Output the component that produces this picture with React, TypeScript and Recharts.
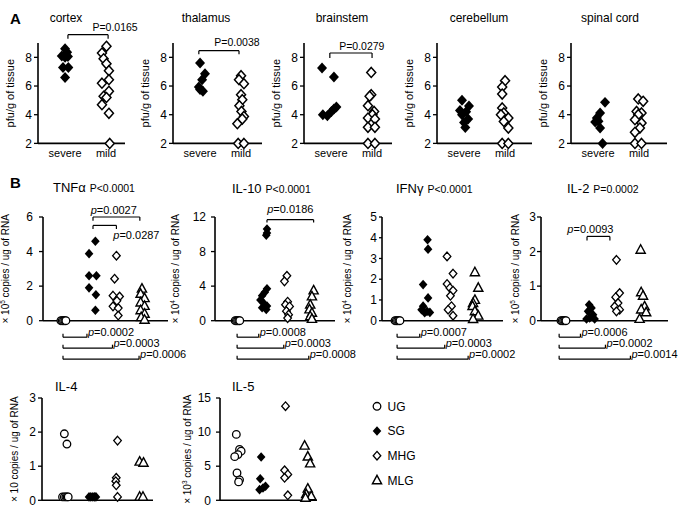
import React from 'react';
import { ScatterChart, Scatter, XAxis, YAxis, ReferenceLine, ReferenceDot } from 'recharts';

const FONT = '"Liberation Sans", Arial, Helvetica, sans-serif';
type Pt = [number, number]; // [group position (with jitter), value]

// ---------------- Panel A: virus titre, pfu/g of tissue ----------------
const A_REGIONS = ['cortex', 'thalamus', 'brainstem', 'cerebellum', 'spinal cord'];
const A_GROUPS = ['severe', 'mild'];
const A_TICKS = [2, 4, 6, 8];
const A_PVALUES = ['P=0.0165', 'P=0.0038', 'P=0.0279'];

const CORTEX_SEVERE: Pt[] = [[1.0, 8.6], [1.05, 8.35], [0.92, 8.1], [1.07, 8.05], [1.0, 8.0], [0.95, 7.3], [1.08, 7.3], [1.0, 6.6]];
const CORTEX_MILD: Pt[] = [[2.01, 8.77], [1.9, 8.3], [1.94, 7.9], [2.01, 7.55], [2.07, 7.07], [2.07, 6.44], [1.9, 6.2], [2.07, 5.63], [1.94, 5.28], [2.01, 5.2], [1.9, 4.7], [2.07, 4.1], [2.09, 2.0]];
const THALAMUS_SEVERE: Pt[] = [[1.0, 7.6], [1.12, 6.86], [1.05, 6.44], [0.97, 5.93], [1.0, 5.75], [1.07, 5.63]];
const THALAMUS_MILD: Pt[] = [[2.0, 6.72], [1.95, 6.44], [2.07, 6.16], [2.0, 5.4], [2.03, 5.05], [1.96, 4.63], [2.01, 4.23], [2.07, 3.88], [2.03, 3.7], [1.91, 3.37], [1.93, 2.0], [2.07, 2.0]];
const BRAINSTEM_SEVERE: Pt[] = [[0.78, 7.26], [1.07, 6.63], [1.13, 4.53], [1.07, 4.4], [1.01, 4.23], [0.8, 4.0], [0.91, 3.93]];
const BRAINSTEM_MILD: Pt[] = [[1.98, 6.95], [1.98, 5.4], [1.94, 5.28], [1.9, 4.63], [2.05, 4.23], [2.01, 4.0], [1.9, 3.77], [2.07, 3.7], [1.9, 3.12], [2.07, 3.12], [1.9, 2.0], [2.07, 2.0]];
const CEREBELLUM_SEVERE: Pt[] = [[0.95, 5.0], [1.12, 4.6], [0.9, 4.3], [1.05, 4.2], [0.95, 4.0], [1.1, 3.7], [1.0, 3.45], [1.03, 3.1]];
const CEREBELLUM_MILD: Pt[] = [[2.0, 6.37], [1.93, 5.93], [1.93, 5.44], [1.93, 4.47], [1.97, 4.12], [1.9, 4.0], [2.08, 3.77], [1.97, 3.53], [2.08, 3.07], [1.93, 2.0], [2.08, 2.0]];
const SPINAL_SEVERE: Pt[] = [[1.17, 4.86], [1.05, 4.12], [0.97, 3.77], [1.01, 3.55], [0.93, 3.5], [1.05, 3.07], [1.11, 2.0]];
const SPINAL_MILD: Pt[] = [[1.98, 5.1], [2.1, 4.93], [1.94, 4.23], [2.06, 4.12], [1.98, 4.0], [1.9, 3.65], [2.06, 3.42], [2.02, 3.07], [1.9, 2.77], [1.9, 2.0], [2.06, 2.0]];

// ---------------- Panel B: cytokine mRNA ----------------
const B_GROUPS = ['UG', 'SG', 'MHG', 'MLG'];
const B_CYTOKINES = ['TNFα', 'IL-10', 'IFNγ', 'IL-2', 'IL-4', 'IL-5'];
const B_OVERALL_P = ['P<0.0001', 'P<0.0001', 'P<0.0001', 'P=0.0002', '', ''];
const B_EXPONENT = ['5', '4', '4', '5', '', '3'];
const TNF_TICKS = [0, 2, 4, 6];
const IL10_TICKS = [0, 4, 8, 12];
const IFN_TICKS = [0, 1, 2, 3, 4, 5];
const IL2_TICKS = [0, 1, 2, 3];
const IL4_TICKS = [0, 1, 2, 3];
const IL5_TICKS = [0, 5, 10, 15];

const TNF_UG: Pt[] = [[0.92, 0], [0.97, 0], [1.02, 0], [1.07, 0], [1.11, 0]];
const TNF_SG: Pt[] = [[2.23, 4.6], [1.99, 3.88], [1.99, 2.6], [2.27, 2.6], [1.99, 1.9], [2.25, 1.5], [2.23, 0.6]];
const TNF_MHG: Pt[] = [[3.03, 3.76], [2.96, 2.43], [2.9, 1.45], [3.15, 1.4], [3.05, 1.15], [2.9, 0.83], [3.1, 0.73], [3.1, 0.3]];
const TNF_MLG: Pt[] = [[4.0, 1.85], [3.95, 1.55], [4.1, 1.3], [3.95, 1.05], [4.1, 0.85], [3.95, 0.6], [4.1, 0.4], [3.97, 0.2], [4.1, 0.05]];

const IL10_UG: Pt[] = [[0.92, 0], [0.97, 0], [1.02, 0], [1.07, 0], [1.11, 0]];
const IL10_SG: Pt[] = [[2.23, 10.6], [2.23, 10.15], [2.2, 9.9], [2.23, 3.7], [2.14, 3.3], [2.03, 2.9], [1.96, 2.4], [2.1, 2.0], [2.23, 1.7], [2.03, 1.5], [2.2, 1.3]];
const IL10_MHG: Pt[] = [[3.05, 5.2], [2.95, 4.55], [3.08, 2.2], [2.99, 1.85], [3.16, 1.65], [3.03, 1.1], [3.12, 0.7], [3.08, 0.3]];
const IL10_MLG: Pt[] = [[4.15, 3.5], [4.08, 2.8], [4.01, 1.85], [3.98, 1.3], [4.08, 0.9], [4.01, 0.5], [4.08, 0.2]];

const IFN_UG: Pt[] = [[0.92, 0], [0.97, 0], [1.02, 0], [1.07, 0], [1.11, 0]];
const IFN_SG: Pt[] = [[2.17, 3.9], [2.19, 3.45], [2.0, 1.74], [2.19, 1.1], [2.0, 0.7], [1.94, 0.53], [2.15, 0.45], [2.06, 0.38], [2.26, 0.4]];
const IFN_MHG: Pt[] = [[2.92, 3.1], [3.15, 2.27], [2.92, 1.77], [3.03, 1.58], [3.15, 1.45], [3.05, 1.2], [3.09, 0.7], [2.96, 0.53], [3.15, 0.24]];
const IFN_MLG: Pt[] = [[3.99, 2.33], [4.12, 1.58], [3.99, 1.0], [3.92, 0.85], [3.9, 0.7], [3.99, 0.45], [4.12, 0.24], [3.92, 0.08]];

const IL2_UG: Pt[] = [[0.92, 0], [0.97, 0], [1.02, 0], [1.07, 0], [1.11, 0]];
const IL2_SG: Pt[] = [[1.99, 0.46], [2.08, 0.37], [1.95, 0.27], [2.14, 0.17], [2.01, 0.08], [1.89, 0.05], [2.2, 0.05]];
const IL2_MHG: Pt[] = [[3.03, 1.76], [3.15, 0.8], [3.0, 0.68], [3.09, 0.51], [2.96, 0.41], [3.15, 0.32], [3.03, 0.27]];
const IL2_MLG: Pt[] = [[3.95, 2.05], [3.97, 0.82], [4.04, 0.72], [4.1, 0.41], [3.97, 0.32], [4.16, 0.24], [3.91, 0.05]];

const IL4_UG: Pt[] = [[0.97, 1.95], [1.07, 1.65], [0.9, 0.1], [0.97, 0.1], [1.03, 0.1], [1.08, 0.1], [1.12, 0.1]];
const IL4_SG: Pt[] = [[1.93, 0.1], [2.0, 0.1], [2.08, 0.1], [2.15, 0.1], [2.2, 0.1]];
const IL4_MHG: Pt[] = [[3.04, 1.75], [2.99, 0.66], [2.97, 0.56], [2.99, 0.44], [3.04, 0.1]];
const IL4_MLG: Pt[] = [[3.9, 1.13], [4.05, 1.1], [3.9, 0.1], [4.03, 0.1]];

const IL5_UG: Pt[] = [[0.93, 9.66], [1.07, 7.46], [1.14, 7.2], [1.0, 6.7], [0.86, 6.4], [0.96, 4.0], [1.07, 3.0], [1.03, 2.7]];
const IL5_SG: Pt[] = [[2.01, 6.34], [1.97, 3.17], [2.2, 2.05], [2.09, 1.8], [1.94, 1.56]];
const IL5_MHG: Pt[] = [[3.07, 13.8], [3.03, 4.4], [3.17, 3.8], [3.03, 3.3], [3.17, 0.73]];
const IL5_MLG: Pt[] = [[3.9, 8.0], [4.04, 6.4], [4.14, 5.4], [4.04, 1.7], [3.97, 0.9], [4.19, 0.6], [3.94, 0.35]];

const TNF_VS_UG_P = ['0.0002', '0.0003', '0.0006'];
const IL10_VS_UG_P = ['0.0008', '0.0003', '0.0008'];
const IFN_VS_UG_P = ['0.0007', '0.0003', '0.0002'];
const IL2_VS_UG_P = ['0.0006', '0.0002', '0.0014'];
const TNF_PAIR_P = ['0.0027', '0.0287'];
const IL10_PAIR_P = ['0.0186'];
const IL2_PAIR_P = ['0.0093'];

// ---------------- markers ----------------
const dia = (cx: number, cy: number, hw: number, hh: number) => `M${cx},${cy - hh}L${cx + hw},${cy}L${cx},${cy + hh}L${cx - hw},${cy}Z`;
const tri = (cx: number, cy: number, hw: number, h: number) => `M${cx},${cy - h * 0.6}L${cx + hw},${cy + h * 0.4}L${cx - hw},${cy + h * 0.4}Z`;
const MK: Record<string, (p: any) => any> = {
  aFilled: (p) => <path d={dia(p.cx, p.cy, 5, 5.5)} fill="#000" />,
  aHollow: (p) => <path d={dia(p.cx, p.cy, 4.5, 5)} fill="#fff" stroke="#000" strokeWidth={1.5} />,
  circle: (p) => <circle cx={p.cx} cy={p.cy} r={3.8} fill="#fff" stroke="#000" strokeWidth={1.3} />,
  filled: (p) => <path d={dia(p.cx, p.cy, 4.3, 4.8)} fill="#000" />,
  hollow: (p) => <path d={dia(p.cx, p.cy, 3.8, 4.3)} fill="#fff" stroke="#000" strokeWidth={1.3} />,
  tri: (p) => <path d={tri(p.cx, p.cy, 4.6, 8.5)} fill="#fff" stroke="#000" strokeWidth={1.4} />,
};

const ML = 5, YW = 52, MT = 48, MR = 62, XH = 22, MB = 50;

type Ann =
  | { kind: 'bracket'; x1: number; x2: number; y: number; tick: number }
  | { kind: 'text'; x: number; y: number; dx?: number; anchor: string; size: number; content: any };

interface PlotProps {
  axisX: number; plotTop: number; plotW: number; plotH: number;
  xDomain: [number, number]; yDomain: [number, number]; yTicks: number[];
  xTicks?: number[]; xLabels?: string[];
  tickSize: number; tickMargin: number; tickFont: number;
  series: { data: Pt[]; shape: (p: any) => any }[];
  chrome: (cx: number, cy: number) => any;
  anns: Ann[];
}

function Plot(P: PlotProps) {
  const [x0, x1] = P.xDomain;
  const [y0, y1] = P.yDomain;
  const yAt = (off: number) => y1 - (off * (y1 - y0)) / P.plotH;
  const dxu = (px: number) => (px * (x1 - x0)) / P.plotW;
  const width = ML + YW + P.plotW + MR;
  const height = MT + P.plotH + XH + MB;
  const els: any[] = [];
  P.anns.forEach((a, i) => {
    if (a.kind === 'bracket') {
      const y = yAt(a.y);
      const yt = yAt(a.y + a.tick);
      els.push(<ReferenceLine key={`h${i}`} segment={[{ x: a.x1, y }, { x: a.x2, y }]} stroke="#000" strokeWidth={1.2} ifOverflow="visible" />);
      els.push(<ReferenceLine key={`l${i}`} segment={[{ x: a.x1, y }, { x: a.x1, y: yt }]} stroke="#000" strokeWidth={1.2} ifOverflow="visible" />);
      els.push(<ReferenceLine key={`r${i}`} segment={[{ x: a.x2, y }, { x: a.x2, y: yt }]} stroke="#000" strokeWidth={1.2} ifOverflow="visible" />);
    } else {
      els.push(
        <ReferenceDot key={`t${i}`} x={a.x + dxu(a.dx || 0)} y={yAt(a.y)} r={0} ifOverflow="visible"
          shape={(p: any) => (
            <text x={p.cx} y={p.cy} textAnchor={a.anchor} fontSize={a.size} fontFamily={FONT} fill="#000">{a.content}</text>
          )} />
      );
    }
  });
  return (
    <div style={{ position: 'absolute', left: P.axisX - YW - ML, top: P.plotTop - MT, width, height }}>
      <ScatterChart width={width} height={height} margin={{ top: MT, right: MR, bottom: MB, left: ML }}>
        <XAxis type="number" dataKey="x" domain={P.xDomain} height={XH}
          ticks={P.xTicks} tick={P.xLabels ? { fontSize: 11, fill: '#000', fontFamily: FONT } : false}
          tickFormatter={(v: number) => (P.xLabels ? P.xLabels[Math.round(v) - 1] : '')}
          tickLine={false} tickSize={4} tickMargin={2} axisLine={{ stroke: '#000', strokeWidth: 1.6 }} interval={0} />
        <YAxis type="number" dataKey="y" domain={P.yDomain} ticks={P.yTicks} width={YW} interval={0}
          tick={{ fontSize: P.tickFont, fill: '#000', fontFamily: FONT }}
          tickLine={{ stroke: '#000', strokeWidth: 1.3 }} tickSize={P.tickSize} tickMargin={P.tickMargin}
          axisLine={{ stroke: '#000', strokeWidth: 1.6 }} />
        {P.series.map((s, i) => (
          <Scatter key={i} data={s.data.map(([x, y]) => ({ x, y }))} shape={s.shape} isAnimationActive={false} />
        ))}
        {els}
        <ReferenceDot x={x0} y={y1} r={0} ifOverflow="visible" shape={(p: any) => P.chrome(p.cx, p.cy)} />
      </ScatterChart>
    </div>
  );
}

// ---------------- layout ----------------
const A_LAYOUT = [
  { axisX: 38, plotW: 87, titleDx: 28 },
  { axisX: 173, plotW: 89, titleDx: 33 },
  { axisX: 304, plotW: 88, titleDx: 38 },
  { axisX: 437, plotW: 95, titleDx: 42 },
  { axisX: 571, plotW: 96, titleDx: 39 },
];
const A_DATA: [Pt[], Pt[]][] = [
  [CORTEX_SEVERE, CORTEX_MILD], [THALAMUS_SEVERE, THALAMUS_MILD], [BRAINSTEM_SEVERE, BRAINSTEM_MILD],
  [CEREBELLUM_SEVERE, CEREBELLUM_MILD], [SPINAL_SEVERE, SPINAL_MILD],
];
const A_BRACKETS = [
  { x1: 1.07, x2: 2.05, y: -8.3, tick: 4, tx: 2.22, ty: -11.6 },
  { x1: 0.97, x2: 1.95, y: 7.7, tick: 3.5, tx: 1.9, ty: 2.7 },
  { x1: 0.97, x2: 2.0, y: 10, tick: 5, tx: 1.75, ty: 6.7 },
];

const pText = (v: string) => (<><tspan fontStyle="italic">p</tspan>=<tspan>{v}</tspan></>);

const lowerAnns = (x1: number, x2s: number[], vals: string[], plotH: number): Ann[] => {
  const out: Ann[] = [];
  [16.5, 27.5, 38.5].forEach((off, i) => {
    out.push({ kind: 'bracket', x1, x2: x2s[i], y: plotH + off, tick: -3.5 });
    out.push({ kind: 'text', x: x2s[i], dx: 1, y: plotH + off - 1.2, anchor: 'start', size: 11, content: pText(vals[i]) });
  });
  return out;
};

const B_TOP = 217.3, B_H = 103.7, C_TOP = 397.7, C_H = 102.3;
const B_LAYOUT = [
  { axisX: 43, plotTop: B_TOP, plotH: B_H, plotW: 125, xDomain: [0.24, 4.99], titleDx: 10, titleDy: -24.6, ylabDx: -38, tickSize: 4, tickMargin: 6 },
  { axisX: 215, plotTop: B_TOP, plotH: B_H, plotW: 120, xDomain: [0.09, 5.03], titleDx: 17, titleDy: -24, ylabDx: -40, tickSize: 4, tickMargin: 5 },
  { axisX: 382, plotTop: B_TOP, plotH: B_H, plotW: 121, xDomain: [0.42, 5.07], titleDx: 14, titleDy: -24, ylabDx: -35, tickSize: 3, tickMargin: 2 },
  { axisX: 541, plotTop: B_TOP, plotH: B_H, plotW: 127, xDomain: [0.16, 4.99], titleDx: 26, titleDy: -24, ylabDx: -26, tickSize: 4, tickMargin: 1 },
  { axisX: 42, plotTop: C_TOP, plotH: C_H, plotW: 111, xDomain: [0.1, 4.42], titleDx: 13, titleDy: -7, ylabDx: -27, tickSize: 4, tickMargin: 2 },
  { axisX: 220, plotTop: C_TOP, plotH: C_H, plotW: 97, xDomain: [0.22, 4.44], titleDx: 12, titleDy: -7, ylabDx: -32, tickSize: 4, tickMargin: 5 },
];
const B_TICKS = [TNF_TICKS, IL10_TICKS, IFN_TICKS, IL2_TICKS, IL4_TICKS, IL5_TICKS];
const B_DATA: Pt[][][] = [
  [TNF_UG, TNF_SG, TNF_MHG, TNF_MLG],
  [IL10_UG, IL10_SG, IL10_MHG, IL10_MLG],
  [IFN_UG, IFN_SG, IFN_MHG, IFN_MLG],
  [IL2_UG, IL2_SG, IL2_MHG, IL2_MLG],
  [IL4_UG, IL4_SG, IL4_MHG, IL4_MLG],
  [IL5_UG, IL5_SG, IL5_MHG, IL5_MLG],
];
const B_SHAPES = [MK.circle, MK.filled, MK.hollow, MK.tri];

const B_ANNS: Ann[][] = [
  [
    { kind: 'bracket', x1: 2.14, x2: 3.92, y: 0, tick: 3.7 },
    { kind: 'text', x: 2.93, y: -2.8, anchor: 'middle', size: 11, content: pText(TNF_PAIR_P[0]) },
    { kind: 'bracket', x1: 2.14, x2: 3.03, y: 8.4, tick: 3.6 },
    { kind: 'text', x: 3.79, y: 22.4, anchor: 'middle', size: 11, content: pText(TNF_PAIR_P[1]) },
    ...lowerAnns(1.0, [1.91, 2.88, 3.89], TNF_VS_UG_P, B_H),
  ],
  [
    { kind: 'bracket', x1: 2.23, x2: 4.15, y: 2.7, tick: 2.7 },
    { kind: 'text', x: 3.19, y: -4, anchor: 'middle', size: 11, content: pText(IL10_PAIR_P[0]) },
    ...lowerAnns(1.0, [1.89, 2.92, 3.95], IL10_VS_UG_P, B_H),
  ],
  [...lowerAnns(1.0, [1.87, 2.83, 3.73], IFN_VS_UG_P, B_H)],
  [
    { kind: 'bracket', x1: 1.91, x2: 2.78, y: 19.4, tick: 4 },
    { kind: 'text', x: 2.04, y: 16, anchor: 'middle', size: 11, content: pText(IL2_PAIR_P[0]) },
    ...lowerAnns(0.85, [1.66, 2.61, 3.56], IL2_VS_UG_P, B_H),
  ],
  [],
  [],
];

export default function App() {
  return (
    <div style={{ position: 'absolute', left: 0, top: 0, width: 682, height: 515, background: '#fff', overflow: 'hidden' }}>
      <svg width={682} height={515} style={{ position: 'absolute', left: 0, top: 0 }}>
        <text x={10} y={24} fontSize={15} fontWeight="bold" fontFamily={FONT}>A</text>
        <text x={10} y={188.3} fontSize={15} fontWeight="bold" fontFamily={FONT}>B</text>
        {B_GROUPS.map((g, i) => {
          const cy = 406.3 + i * 24.7;
          const cx = 377;
          return (
            <g key={g}>
              {B_SHAPES[i]({ cx, cy })}
              <text x={387.5} y={cy + 4.2} fontSize={12} fontFamily={FONT}>{g}</text>
            </g>
          );
        })}
      </svg>
      {A_REGIONS.map((name, i) => {
        const L = A_LAYOUT[i];
        const plotH = 100.4;
        const b = A_BRACKETS[i];
        const anns: Ann[] = b
          ? [
              { kind: 'bracket', x1: b.x1, x2: b.x2, y: b.y, tick: b.tick },
              { kind: 'text', x: b.tx, y: b.ty, anchor: 'middle', size: 10.5, content: A_PVALUES[i] },
            ]
          : [];
        return (
          <Plot key={name} axisX={L.axisX} plotTop={43.3} plotW={L.plotW} plotH={plotH}
            xDomain={[0.34, 0.34 + L.plotW / 41]} yDomain={[2, 9]} yTicks={A_TICKS}
            xTicks={[1, 2]} xLabels={A_GROUPS} tickSize={4} tickMargin={2} tickFont={12}
            series={[{ data: A_DATA[i][0], shape: MK.aFilled }, { data: A_DATA[i][1], shape: MK.aHollow }]}
            anns={anns}
            chrome={(cx, cy) => (
              <g fontFamily={FONT} fill="#000">
                <text x={cx + L.titleDx} y={cy - 20.6} textAnchor="middle" fontSize={12}>{name}</text>
                <text x={cx - 24} y={cy + plotH / 2} textAnchor="middle" fontSize={11}
                  transform={`rotate(-90, ${cx - 24}, ${cy + plotH / 2})`}>pfu/g of tissue</text>
              </g>
            )} />
        );
      })}
      {B_CYTOKINES.map((name, i) => {
        const L = B_LAYOUT[i];
        const ticks = B_TICKS[i];
        const ymax = ticks[ticks.length - 1];
        const exp = B_EXPONENT[i];
        const lx = (cx: number) => cx + L.ylabDx + 3.5;
        return (
          <Plot key={name} axisX={L.axisX} plotTop={L.plotTop} plotW={L.plotW} plotH={L.plotH}
            xDomain={L.xDomain as [number, number]} yDomain={[0, ymax]} yTicks={ticks}
            tickSize={L.tickSize} tickMargin={L.tickMargin} tickFont={12}
            series={B_DATA[i].map((d, k) => ({ data: d, shape: B_SHAPES[k] }))}
            anns={B_ANNS[i]}
            chrome={(cx, cy) => (
              <g fontFamily={FONT} fill="#000">
                <text x={cx + L.titleDx} y={cy + L.titleDy} fontSize={13}>
                  <tspan>{name}</tspan>
                  {B_OVERALL_P[i] ? <tspan fontSize={10.5} dx={4}>{B_OVERALL_P[i]}</tspan> : null}
                </text>
                <text x={lx(cx)} y={cy + L.plotH / 2} textAnchor="middle" fontSize={10}
                  transform={`rotate(-90, ${lx(cx)}, ${cy + L.plotH / 2})`}>
                  <tspan>× 10</tspan>
                  {exp ? <tspan fontSize={6.5} dy={-4}>{exp}</tspan> : null}
                  <tspan dy={exp ? 4 : 0}> copies / ug of RNA</tspan>
                </text>
              </g>
            )} />
        );
      })}
    </div>
  );
}
